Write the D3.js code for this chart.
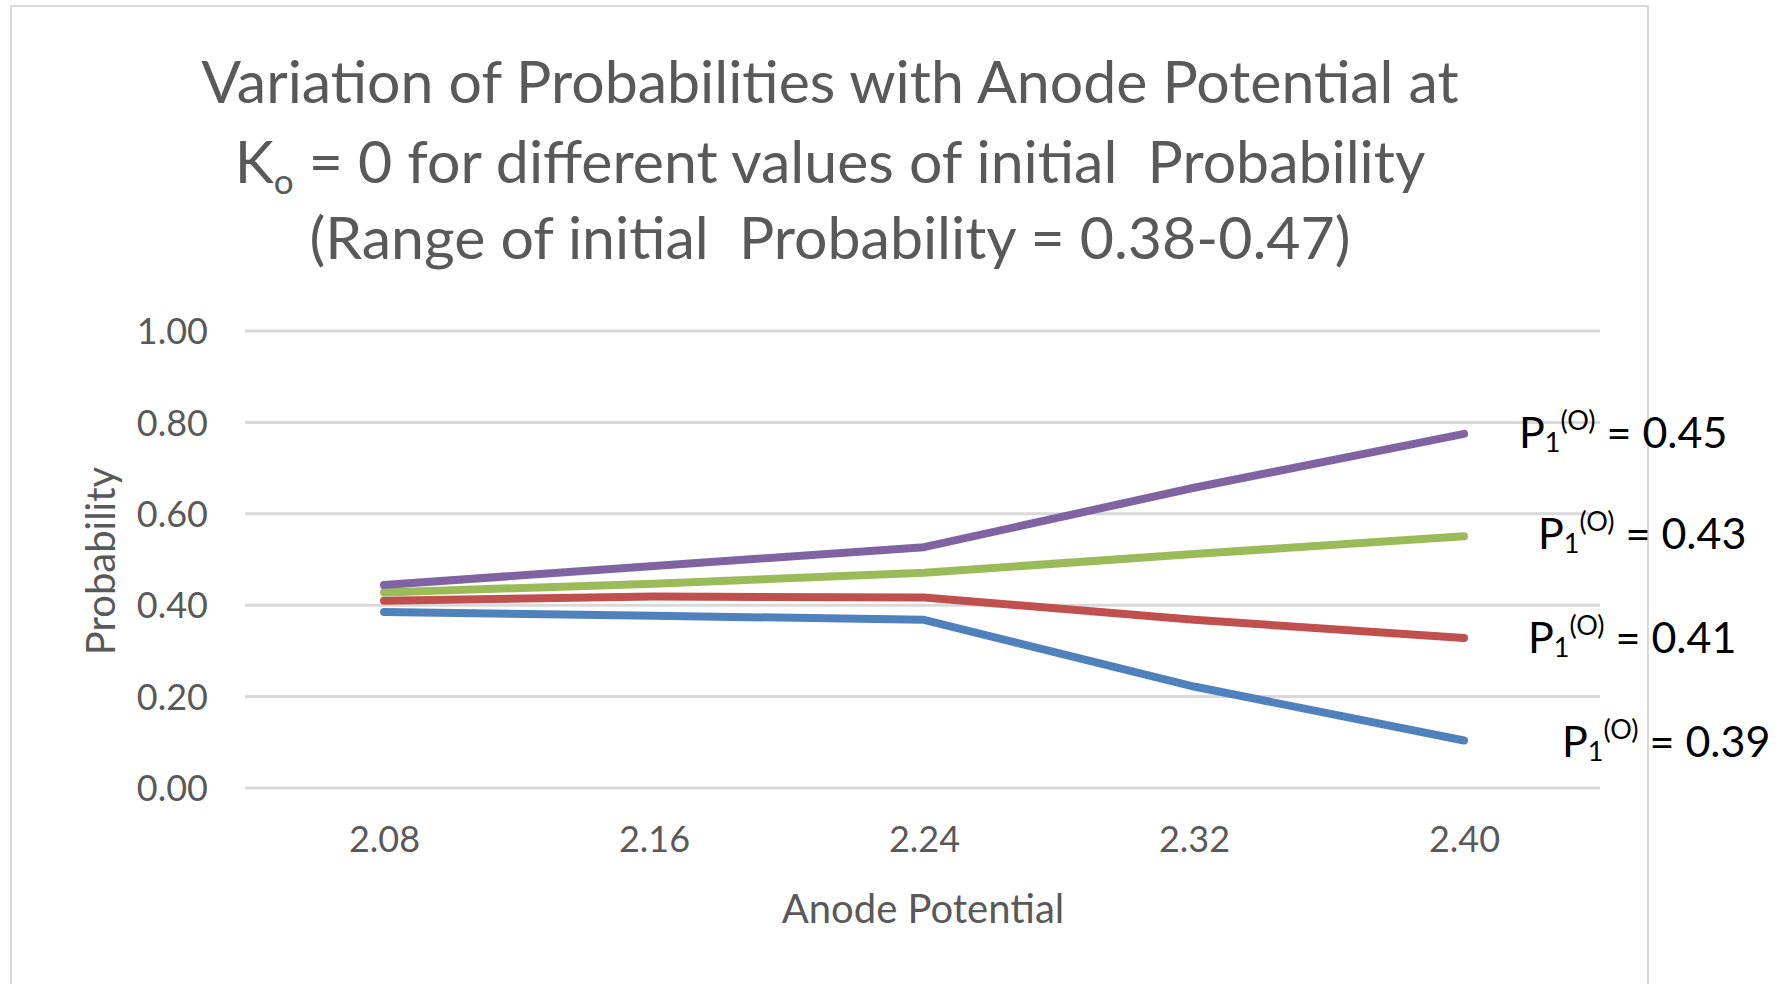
<!DOCTYPE html>
<html>
<head>
<meta charset="utf-8">
<script src="https://cdn.jsdelivr.net/npm/d3@7"></script>
<style>
  html, body { margin: 0; padding: 0; background: #ffffff; }
  svg { display: block; }
  text { font-family: Lato, "Open Sans", sans-serif; }
</style>
</head>
<body>
<svg id="chart" width="1780" height="984"></svg>
<script>
// ---------- data ----------
const categories = ["2.08", "2.16", "2.24", "2.32", "2.40"];
const seriesNames = ["0.39", "0.41", "0.43", "0.45"];
const seriesBlue   = [0.385, 0.377, 0.368, 0.222, 0.104];
const seriesRed    = [0.410, 0.419, 0.417, 0.368, 0.328];
const seriesGreen  = [0.428, 0.447, 0.471, 0.512, 0.551];
const seriesPurple = [0.444, 0.486, 0.527, 0.657, 0.775];
const yTicks = [0, 0.2, 0.4, 0.6, 0.8, 1.0];
const titleLines = [
  "Variation of Probabilities with Anode Potential at",
  "= 0 for different values of initial\u00A0 Probability",
  "(Range of initial\u00A0 Probability = 0.38-0.47)"
];
const xTitle = "Anode Potential";
const yTitle = "Probability";

// ---------- styling / layout ----------
const colors = ["#4F81BD", "#C0504D", "#9BBB59", "#8064A2"];
const labelDx = [98, 64, 74, 55];   // label offset from the last point
const labelDy = [17, 15, 13, 14];
const textGray = "#595959";

const svg = d3.select("#chart");

// chart area border
svg.append("rect")
  .attr("x", 11).attr("y", 6)
  .attr("width", 1637).attr("height", 1000)
  .attr("fill", "#ffffff")
  .attr("stroke", "#d9d9d9").attr("stroke-width", 2);

const x = d3.scalePoint().domain(categories).range([249, 1599]).padding(0.5);
const y = d3.scaleLinear().domain([0, 1]).range([788, 331]);

// gridlines
svg.append("g").selectAll("line").data(yTicks).join("line")
  .attr("x1", 245).attr("x2", 1600)
  .attr("y1", d => y(d)).attr("y2", d => y(d))
  .attr("stroke", "#d9d9d9").attr("stroke-width", 3);

// y axis labels
const yAxis = d3.axisLeft(y).tickValues(yTicks).tickFormat(d3.format(".2f")).tickSize(0).tickPadding(0);
const gy = svg.append("g").attr("transform", "translate(208,0)").call(yAxis);
gy.select(".domain").remove();
gy.selectAll("text")
  .attr("fill", textGray).attr("font-size", 36)
  .attr("font-family", "Lato, sans-serif")
  .attr("dy", "0.35em");

// x axis labels
const xAxis = d3.axisBottom(x).tickSize(0).tickPadding(0);
const gx = svg.append("g").attr("transform", "translate(0,788)").call(xAxis);
gx.select(".domain").remove();
gx.selectAll("text")
  .attr("fill", textGray).attr("font-size", 36)
  .attr("font-family", "Lato, sans-serif")
  .attr("y", 64).attr("dy", 0);

// axis titles
svg.append("text")
  .attr("x", 923).attr("y", 923)
  .attr("text-anchor", "middle")
  .attr("fill", textGray).attr("font-size", 40)
  .text(xTitle);

svg.append("text")
  .attr("transform", "translate(115,561) rotate(-90)")
  .attr("text-anchor", "middle")
  .attr("fill", textGray).attr("font-size", 40)
  .text(yTitle);

// title
const titleG = svg.append("g").attr("fill", textGray).attr("font-size", 59);
titleG.append("text").attr("x", 830).attr("y", 103).attr("text-anchor", "middle")
  .text(titleLines[0]);
const t2 = titleG.append("text").attr("x", 830).attr("y", 183).attr("text-anchor", "middle");
t2.append("tspan").text("K");
t2.append("tspan").attr("font-size", 35).attr("dy", 11).text("o");
t2.append("tspan").attr("dy", -11).text("\u00A0" + titleLines[1]);
titleG.append("text").attr("x", 830).attr("y", 259).attr("text-anchor", "middle")
  .text(titleLines[2]);

// lines
const allSeries = [seriesBlue, seriesRed, seriesGreen, seriesPurple];
const line = d3.line()
  .x((d, i) => x(categories[i]))
  .y(d => y(d));

svg.append("g").selectAll("path").data(allSeries).join("path")
  .attr("d", d => line(d))
  .attr("fill", "none")
  .attr("stroke", (d, i) => colors[i])
  .attr("stroke-width", 8)
  .attr("stroke-linecap", "round")
  .attr("stroke-linejoin", "round");

// series labels
const lastCat = categories[categories.length - 1];
allSeries.forEach((s, i) => {
  const lx = x(lastCat) + labelDx[i];
  const ly = y(s[s.length - 1]) + labelDy[i];
  const t = svg.append("text").attr("x", lx).attr("y", ly)
    .attr("fill", "#000000").attr("font-size", 43);
  t.append("tspan").text("P");
  t.append("tspan").attr("font-size", 27).attr("dy", 4).text("1");
  t.append("tspan").attr("font-size", 27).attr("dy", -22).text("(O)");
  t.append("tspan").attr("dy", 18).text(" = " + seriesNames[i]);
});
</script>
</body>
</html>
